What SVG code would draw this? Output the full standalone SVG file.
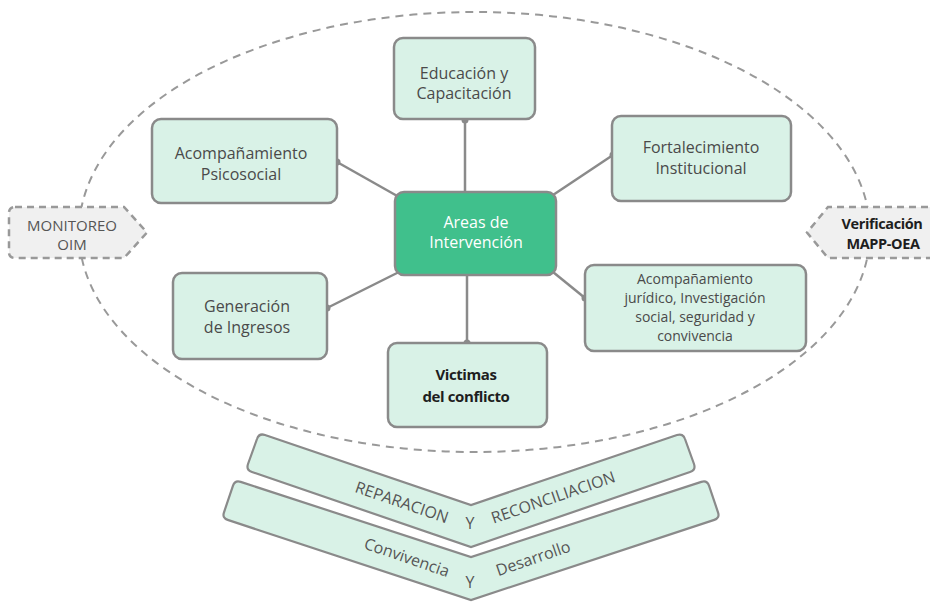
<svg xmlns="http://www.w3.org/2000/svg" width="930" height="602" viewBox="0 0 930 602">
<style>
.box{fill:#d9f2e7;stroke:#8a8a8a;stroke-width:2.5}
.t{font-family:"Open Sans","Liberation Sans",sans-serif;font-size:16px;fill:#4a4a4a;text-anchor:middle}
.tb{font-family:"Open Sans","Liberation Sans",sans-serif;font-size:15px;font-weight:bold;fill:#1e1e1e;text-anchor:middle;letter-spacing:-0.4px}
.dash{fill:#f0f0f0;stroke:#999;stroke-width:2.5;stroke-dasharray:7 5}
.con{stroke:#8a8a8a;stroke-width:2.5;fill:none}
.dot{fill:#8a8a8a}
</style>
<rect width="930" height="602" fill="#ffffff"/>
<ellipse cx="474.5" cy="232" rx="395.5" ry="220" fill="none" stroke="#999" stroke-width="2" stroke-dasharray="8 6"/>

<g id="monitoreo">
<path class="dash" d="M 15,207 L 124,207 L 147,232.5 L 124,258 L 15,258 Q 9,258 9,252 L 9,213 Q 9,207 15,207 Z"/>
<text class="t" x="72" y="231" style="font-size:15px;fill:#555">MONITOREO</text>
<text class="t" x="72" y="250" style="font-size:15px;fill:#555">OIM</text>
</g>
<g id="verificacion">
<path class="dash" d="M 940,207 L 828,207 L 807,232.5 L 828,258 L 940,258"/>
<text class="tb" x="882" y="229" style="font-size:14.5px">Verificación</text>
<text class="tb" x="883" y="249" style="font-size:14.5px">MAPP-OEA</text>
</g>

<g id="connectors">
<line class="con" x1="465" y1="120" x2="465" y2="193"/>
<line class="con" x1="337" y1="162" x2="399" y2="197"/>
<line class="con" x1="613" y1="155" x2="553" y2="195"/>
<line class="con" x1="327" y1="308" x2="399" y2="272"/>
<line class="con" x1="585" y1="298" x2="553" y2="272"/>
<line class="con" x1="467" y1="343" x2="467" y2="275"/>
<circle class="dot" cx="465" cy="120" r="3.5"/>
<circle class="dot" cx="337" cy="162" r="3.5"/>
<circle class="dot" cx="613" cy="155" r="3.5"/>
<circle class="dot" cx="327" cy="308" r="3.5"/>
<circle class="dot" cx="585" cy="298" r="3.5"/>
<circle class="dot" cx="467" cy="343" r="3.5"/>
</g>

<g id="educacion">
<rect class="box" x="394" y="38" width="141" height="81" rx="9"/>
<text class="t" x="464" y="79">Educación y</text>
<text class="t" x="464" y="99">Capacitación</text>
</g>
<g id="psicosocial">
<rect class="box" x="152" y="119" width="185" height="84" rx="9"/>
<text class="t" x="241" y="159">Acompañamiento</text>
<text class="t" x="241" y="180">Psicosocial</text>
</g>
<g id="fortalecimiento">
<rect class="box" x="612" y="116" width="179" height="85" rx="9"/>
<text class="t" x="701" y="153">Fortalecimiento</text>
<text class="t" x="701" y="174">Institucional</text>
</g>
<g id="areas">
<rect x="395" y="192" width="161" height="83" rx="9" fill="#40c08c" stroke="#8a8a8a" stroke-width="2.5"/>
<text class="t" x="476" y="228" style="fill:#ffffff">Areas de</text>
<text class="t" x="476" y="248" style="fill:#ffffff">Intervención</text>
</g>
<g id="generacion">
<rect class="box" x="173" y="273" width="154" height="86" rx="9"/>
<text class="t" x="247" y="312">Generación</text>
<text class="t" x="247" y="333">de Ingresos</text>
</g>
<g id="juridico">
<rect class="box" x="585" y="265" width="221" height="86" rx="9"/>
<text class="t" x="695" y="284" style="font-size:14px">Acompañamiento</text>
<text class="t" x="695" y="303" style="font-size:14px">jurídico, Investigación</text>
<text class="t" x="695" y="322" style="font-size:14px">social, seguridad y</text>
<text class="t" x="695" y="341" style="font-size:14px">convivencia</text>
</g>
<g id="victimas">
<rect class="box" x="388" y="343" width="159" height="84" rx="9"/>
<text class="tb" x="466" y="380">Victimas</text>
<text class="tb" x="466" y="402">del conflicto</text>
</g>

<g id="reparacion">
<path class="box" style="stroke-width:2.2" d="M 265,435 L 471,505 L 677,435 Q 683,433 685,439 L 694,464 Q 696,470 690,472 L 471,547 L 252,472 Q 246,470 248,464 L 257,439 Q 259,433 265,435 Z"/>
<text class="t" x="402" y="508" transform="rotate(19 402 502)" style="fill:#555">REPARACION</text>
<text class="t" x="470" y="529" style="fill:#555">Y</text>
<text class="t" x="553" y="503" transform="rotate(-19 553 497)" style="fill:#555">RECONCILIACION</text>
</g>
<g id="convivencia">
<path class="box" style="stroke-width:2.2" d="M 240.7,481.9 L 471,557 L 701.3,481.9 Q 707,480 709,485.7 L 718,512.3 Q 720,518 714.3,519.9 L 471,600 L 227.7,519.9 Q 222,518 224,512.3 L 233,485.7 Q 235,480 240.7,481.9 Z"/>
<text class="t" x="407" y="563" transform="rotate(19 407 557)" style="fill:#555">Convivencia</text>
<text class="t" x="470" y="588" style="fill:#555">Y</text>
<text class="t" x="533" y="564" transform="rotate(-19 533 558)" style="fill:#555">Desarrollo</text>
</g>
</svg>
